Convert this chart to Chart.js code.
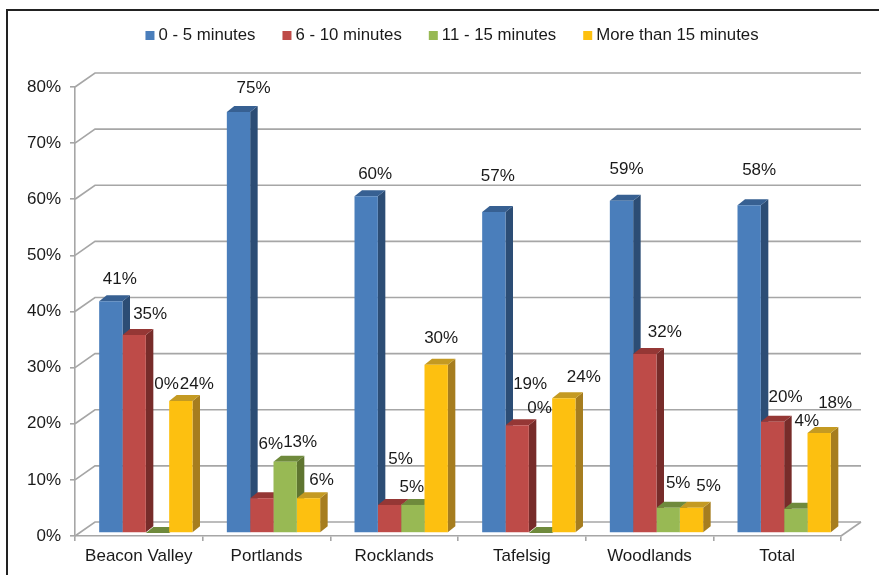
<!DOCTYPE html>
<html>
<head>
<meta charset="utf-8">
<title>Travel time</title>
<script src="https://cdn.jsdelivr.net/npm/chart.js@4"></script>
<style>
  html, body { margin: 0; padding: 0; background: #fff; }
  canvas { display: block; }
</style>
</head>
<body>
<canvas id="chart" width="879" height="575"></canvas>
<script>
// data
var categories = ['Beacon Valley', 'Portlands', 'Rocklands', 'Tafelsig', 'Woodlands', 'Total'];
var seriesNames = ['0 - 5 minutes', '6 - 10 minutes', '11 - 15 minutes', 'More than 15 minutes'];
var minutes0to5 = [41.3, 75, 60, 57.2, 59.2, 58.4];
var minutes6to10 = [35.3, 6.2, 5, 19.2, 31.9, 19.8];
var minutes11to15 = [0, 12.7, 5, 0, 4.5, 4.3];
var minutesOver15 = [23.5, 6.2, 30, 24, 4.5, 17.8];
var tickLabels = ['0%', '10%', '20%', '30%', '40%', '50%', '60%', '70%', '80%'];

// colours: front, side, top
var frontColors = ['#4a7ebb', '#be4b48', '#98b954', '#fdc010'];
var sideColors = ['#2c4d75', '#772c2a', '#5f7530', '#a67d1f'];
var topColors = ['#376092', '#953735', '#6f8a3c', '#c49a22'];

// the labels in the original sit where they were dragged to, so each has its own offset from its bar
var labelOffsets = [
  [[16, -25], [22, -27], [16, -25], [11, -39], [12, -34], [17, -38]],
  [[23, -24], [16, -57], [18, -49], [20, -44], [27, -25], [20, -28]],
  [[16, -152], [22, -22], [6, -21], [6, -128], [17, -27], [18, -91]],
  [[23, -20], [20, -21], [12, -29], [27, -24], [24, -24], [23, -33]]
];

var fontName = '"Liberation Sans", Arial, sans-serif';
var gridColor = '#a6a6a6';
var textColor = '#1a1a1a';

// 3D look
var wallX = 20, wallY = -14;   // how far the back wall sits from the front axes
var barX = 7, barY = -3;       // bars stand a bit inside the floor
var depthX = 7.5, depthY = -6; // depth of one bar

var frame3d = {
  id: 'frame3d',
  beforeDraw: function(chart) {
    var c = chart.ctx;
    c.save();
    c.fillStyle = '#fff';
    c.fillRect(0, 0, chart.width, chart.height);
    // outer border, cropped on the right and bottom in the original
    c.strokeStyle = '#222';
    c.lineWidth = 2;
    c.beginPath();
    c.moveTo(7, chart.height);
    c.lineTo(7, 10);
    c.lineTo(chart.width, 10);
    c.stroke();
    c.restore();
  },
  beforeDatasetsDraw: function(chart) {
    var c = chart.ctx;
    var sx = chart.scales.x, sy = chart.scales.y;
    c.save();
    c.strokeStyle = gridColor;
    c.lineWidth = 1.6;
    sy.ticks.forEach(function(t) {
      var y = sy.getPixelForValue(t.value);
      c.beginPath();
      c.moveTo(sx.left, y);
      c.lineTo(sx.left + wallX, y + wallY);
      c.lineTo(sx.right + wallX, y + wallY);
      c.stroke();
    });
    // right edge of the floor
    var y0 = sy.getPixelForValue(0);
    c.beginPath();
    c.moveTo(sx.right, y0);
    c.lineTo(sx.right + wallX, y0 + wallY);
    c.stroke();
    // sides and tops of the bars, all under the front faces
    c.translate(barX, barY);
    chart.data.datasets.forEach(function(ds, i) {
      chart.getDatasetMeta(i).data.forEach(function(bar) {
        var l = bar.x - bar.width / 2, r = bar.x + bar.width / 2;
        c.fillStyle = sideColors[i];
        c.beginPath();
        c.moveTo(r, bar.y);
        c.lineTo(r + depthX, bar.y + depthY);
        c.lineTo(r + depthX, bar.base + depthY);
        c.lineTo(r, bar.base);
        c.fill();
        c.fillStyle = topColors[i];
        c.beginPath();
        c.moveTo(l, bar.y);
        c.lineTo(l + depthX, bar.y + depthY);
        c.lineTo(r + depthX, bar.y + depthY);
        c.lineTo(r, bar.y);
        c.fill();
      });
    });
    c.restore();
  },
  beforeDatasetDraw: function(chart) {
    chart.ctx.save();
    chart.ctx.translate(barX, barY);
  },
  afterDatasetDraw: function(chart) {
    chart.ctx.restore();
  },
  afterDraw: function(chart) {
    var c = chart.ctx;
    c.save();
    c.font = '17px ' + fontName;
    c.fillStyle = textColor;
    c.textAlign = 'center';
    c.textBaseline = 'middle';
    chart.data.datasets.forEach(function(ds, i) {
      chart.getDatasetMeta(i).data.forEach(function(bar, k) {
        var off = labelOffsets[i][k];
        c.fillText(Math.round(ds.data[k]) + '%', bar.x + off[0], bar.y + off[1]);
      });
    });
    // legend
    c.font = '16.8px ' + fontName;
    var boxSize = 9, boxGap = 4, itemGap = 27, legendY = 35.5;
    var widths = seriesNames.map(function(n) { return c.measureText(n).width; });
    var total = widths.reduce(function(a, b) { return a + b + boxSize + boxGap; }, 0) + itemGap * (seriesNames.length - 1);
    var x = 452 - total / 2;
    c.textAlign = 'left';
    seriesNames.forEach(function(n, i) {
      c.fillStyle = frontColors[i];
      c.fillRect(x, legendY - boxSize / 2, boxSize, boxSize);
      c.fillStyle = textColor;
      c.fillText(n, x + boxSize + boxGap, legendY);
      x += boxSize + boxGap + widths[i] + itemGap;
    });
    c.restore();
  }
};

var values = [minutes0to5, minutes6to10, minutes11to15, minutesOver15];

var myChart = new Chart(document.getElementById('chart'), {
  type: 'bar',
  data: {
    labels: categories,
    datasets: seriesNames.map(function(name, i) {
      return {
        label: name,
        data: values[i],
        backgroundColor: frontColors[i],
        categoryPercentage: 0.731,
        barPercentage: 1,
        borderWidth: 0,
        clip: false
      };
    })
  },
  options: {
    responsive: false,
    animation: false,
    devicePixelRatio: 1,
    layout: { padding: { left: 0, top: 87, right: 38, bottom: 0 } },
    plugins: { legend: { display: false }, tooltip: { enabled: false } },
    scales: {
      x: {
        afterFit: function(s) { s.height = 39; },
        grid: { drawOnChartArea: false, color: gridColor, lineWidth: 1.6, tickLength: 5 },
        border: { color: gridColor, width: 1.6 },
        ticks: { color: textColor, font: { family: fontName, size: 17 }, padding: 5, maxRotation: 0 }
      },
      y: {
        min: 0,
        max: 80,
        afterFit: function(s) { s.width = 75; },
        grid: { drawOnChartArea: false, color: gridColor, lineWidth: 1.6, tickLength: 5 },
        border: { color: gridColor, width: 1.6 },
        ticks: {
          stepSize: 10,
          color: textColor,
          font: { family: fontName, size: 17 },
          padding: 9,
          callback: function(v) { return tickLabels[v / 10]; }
        }
      }
    }
  },
  plugins: [frame3d]
});
</script>
</body>
</html>
